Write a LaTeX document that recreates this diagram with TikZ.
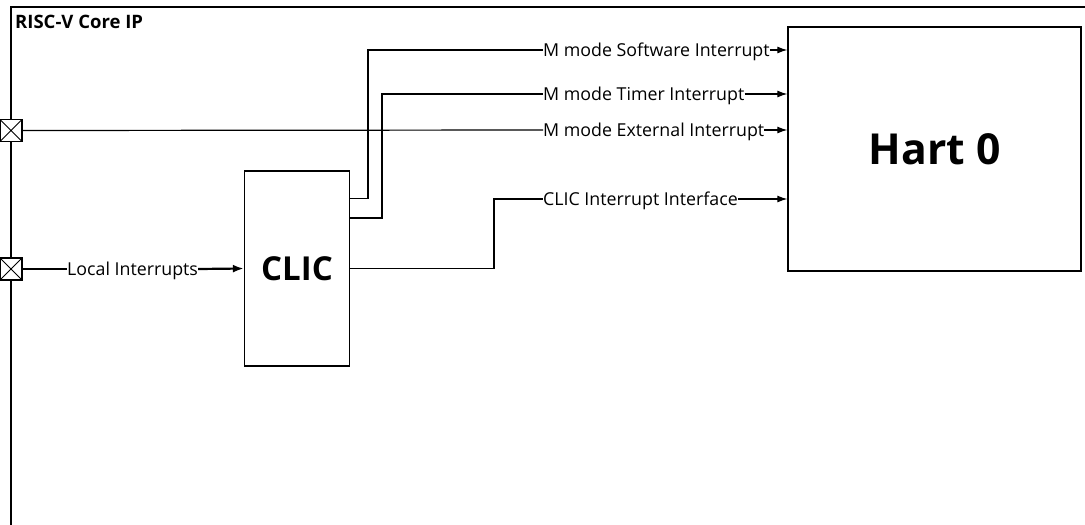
\documentclass[tikz,border=0pt]{standalone}
\usepackage{fontspec}
\setmainfont{Open Sans}
\usetikzlibrary{arrows.meta}
\begin{document}
\begin{tikzpicture}[x=1pt,y=-1pt,
  wire/.style={line width=1.2pt},
  sig/.style={wire,-{Latex[length=10pt,width=7pt]}},
  lbl/.style={anchor=west,inner sep=0pt,font=\fontsize{17.8}{20}\selectfont,text height=12.7pt,text depth=0pt},
  blk/.style={draw,line width=1.3pt,fill=white},
  port/.style={draw,line width=1.4pt,fill=white,minimum size=22pt,inner sep=0pt,
    path picture={\draw[line width=1pt] (path picture bounding box.south west)--(path picture bounding box.north east)
      (path picture bounding box.north west)--(path picture bounding box.south east);}}]
\useasboundingbox (0,0) rectangle (1085,525);
% frame
\draw[line width=1.3pt] (1085,7) -- (11,7) -- (11,525);
\node[anchor=base west,inner sep=0pt,font=\bfseries\fontsize{18.5}{21}\selectfont] (title) at (15,28.5) {RISC-V Core IP};
% ports
\node[port] (pA) at (11,130.5) {};
\node[port] (pB) at (11,269) {};
% blocks
\node[blk,minimum width=293pt,minimum height=244pt,font=\bfseries\fontsize{42.7}{48}\selectfont] (hart) at (934.5,149) {Hart 0};
\node[blk,minimum width=105pt,minimum height=195pt,font=\bfseries\fontsize{33}{38}\selectfont] (clic) at (297,268.5) {CLIC};
% labels
\node[lbl] (lsw) at (543,50) {M mode Software Interrupt};
\node[lbl] (ltm) at (543,94) {M mode Timer Interrupt};
\node[lbl] (lex) at (543,130) {M mode External Interrupt};
\node[lbl] (lci) at (543,199) {CLIC Interrupt Interface};
\node[lbl] (lli) at (67,269) {Local Interrupts};
% connectors
\draw[wire] (clic.east |- 0,198.5) -| (368,50) -- (lsw.west);
\draw[sig] (lsw.east) -- (lsw.east -| hart.west);
\draw[wire] (clic.east |- 0,218) -| (382,94) -- (ltm.west);
\draw[sig] (ltm.east) -- (ltm.east -| hart.west);
\draw[wire] (pA.east) -- (lex.west);
\draw[sig] (lex.east) -- (lex.east -| hart.west);
\draw[wire] (clic.east) -| (494,199) -- (lci.west);
\draw[sig] (lci.east) -- (lci.east -| hart.west);
\draw[line width=2.2pt] (pB.east) -- (lli.west);
\draw[line width=2.2pt,-{Latex[length=11pt,width=8pt]}] (lli.east) -- (clic.west);
\end{tikzpicture}
\end{document}
